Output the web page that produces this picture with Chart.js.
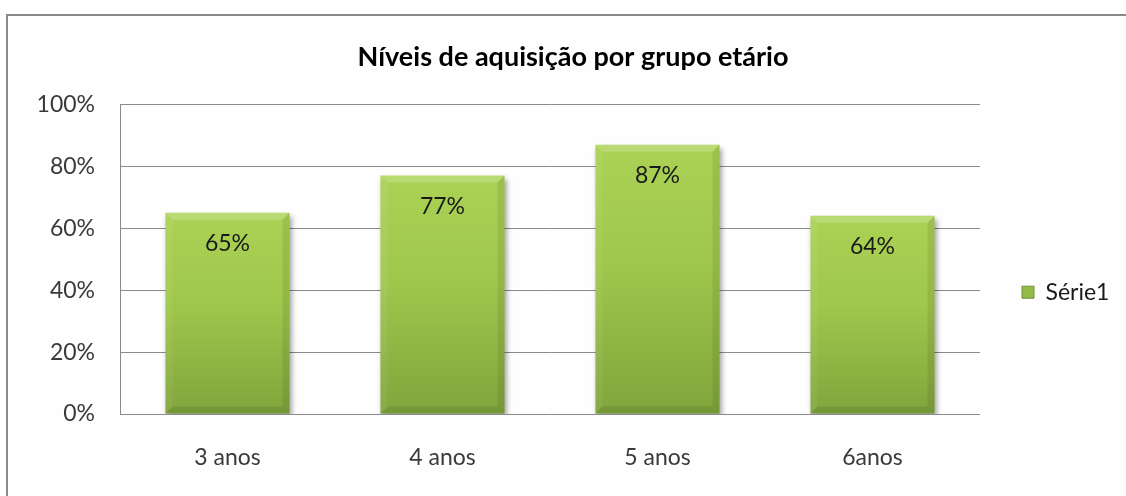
<!DOCTYPE html>
<html>
<head>
<meta charset="utf-8">
<script src="https://cdn.jsdelivr.net/npm/chart.js@4.4.0/dist/chart.umd.min.js"></script>
<style>
  html, body { margin: 0; padding: 0; background: #fff; overflow: hidden; }
  #wrap { position: relative; width: 1126px; height: 496px; overflow: hidden; }
  #frame { position: absolute; left: 6px; top: 14px; width: 1200px; height: 600px;
           border: 2px solid #8a8a8a; background: #fefefe; box-sizing: border-box; }
  canvas { position: absolute; left: 0; top: 0; }
</style>
</head>
<body>
<div id="wrap">
  <div id="frame"></div>
  <canvas id="chart" width="1126" height="496"></canvas>
</div>
<script>
// data
const categories = ['3 anos', '4 anos', '5 anos', '6anos'];
const values = [65, 77, 87, 64];
const seriesName = 'Série1';
const chartTitle = 'Níveis de aquisição por grupo etário';
const yMin = 0, yMax = 100, yStep = 20;

const FONT = 'Lato, "Open Sans", sans-serif';

// vertical green gradient per bar, like the Excel preset
function barFill(c) {
  const chart = c.chart;
  if (!chart.chartArea || c.raw === undefined) return '#98c04a';
  const ys = chart.scales.y;
  const top = ys.getPixelForValue(c.raw), bot = ys.getPixelForValue(0);
  const g = chart.ctx.createLinearGradient(0, top, 0, bot);
  g.addColorStop(0, '#abd255');
  g.addColorStop(0.45, '#9fc74c');
  g.addColorStop(1, '#80a53c');
  return g;
}

// shadow + bevel + value labels on the bars
const barDeco = {
  id: 'barDeco',
  beforeDatasetsDraw(chart) {
    const ctx = chart.ctx;
    ctx.save();
    ctx.shadowColor = 'rgba(0,0,0,0.35)';
    ctx.shadowBlur = 5;
    ctx.shadowOffsetX = 2;
    ctx.shadowOffsetY = 3;
  },
  afterDatasetsDraw(chart) {
    const ctx = chart.ctx;
    ctx.restore();
    const meta = chart.getDatasetMeta(0);
    meta.data.forEach((el, i) => {
      const {x, y, base, width} = el.getProps(['x', 'y', 'base', 'width'], true);
      const l = x - width / 2, r = x + width / 2, b = 7;
      const poly = (pts, fill) => {
        ctx.beginPath();
        ctx.moveTo(pts[0][0], pts[0][1]);
        pts.slice(1).forEach(p => ctx.lineTo(p[0], p[1]));
        ctx.closePath();
        ctx.fillStyle = fill;
        ctx.fill();
      };
      poly([[l, y], [r, y], [r - b, y + b], [l + b, y + b]], 'rgba(255,255,255,0.18)');
      poly([[l, y], [l + b, y + b], [l + b, base - b], [l, base]], 'rgba(255,255,255,0.06)');
      poly([[r, y], [r - b, y + b], [r - b, base - b], [r, base]], 'rgba(0,0,0,0.08)');
      poly([[l, base], [l + b, base - b], [r - b, base - b], [r, base]], 'rgba(0,0,0,0.09)');

      ctx.save();
      ctx.fillStyle = '#1a1a1a';
      ctx.font = '23px ' + FONT;
      ctx.textAlign = 'center';
      ctx.textBaseline = 'middle';
      ctx.fillText(values[i] + '%', x, y + 31);
      ctx.restore();
    });
  }
};

// legend: fixed width on the right, moved down like the original
const legendFix = {
  id: 'legendFix',
  beforeLayout(chart) {
    const lg = chart.legend;
    if (lg && !lg._fixed) {
      const fit = lg.fit.bind(lg);
      lg.fit = function () { fit(); this.width = 146; };
      lg._fixed = true;
    }
  },
  afterLayout(chart) {
    const lg = chart.legend;
    if (lg) { lg.top += 33; lg.bottom += 33; }
  }
};

const ctx = document.getElementById('chart').getContext('2d');
const myChart = new Chart(ctx, {
  type: 'bar',
  data: {
    labels: categories,
    datasets: [{
      label: seriesName,
      data: values,
      backgroundColor: barFill,
      borderWidth: 0,
      categoryPercentage: 1,
      barPercentage: 0.577
    }]
  },
  options: {
    responsive: false,
    animation: false,
    layout: { padding: { left: 20, right: 0, top: 0, bottom: 0 } },
    scales: {
      x: {
        grid: { display: false, drawTicks: false },
        border: { display: false },
        ticks: { color: '#3a3a3a', font: { family: FONT, size: 23 }, padding: 30 },
        afterFit: s => { s.height = 82; }
      },
      y: {
        min: yMin, max: yMax,
        grid: { color: '#8a8a8a', lineWidth: 1, drawTicks: false },
        border: { display: true, color: '#8a8a8a', width: 1 },
        ticks: {
          stepSize: yStep,
          color: '#3a3a3a',
          font: { family: FONT, size: 23 },
          padding: 25,
          callback: v => v + '%'
        },
        afterFit: s => { s.width = 100; }
      }
    },
    plugins: {
      title: {
        display: true,
        text: chartTitle,
        color: '#000',
        font: { family: FONT, size: 27, weight: 'bold' },
        padding: { top: 41, bottom: 31 }
      },
      legend: {
        position: 'right',
        fullSize: false,
        labels: {
          boxWidth: 12, boxHeight: 12,
          padding: 42,
          color: '#1a1a1a',
          font: { family: FONT, size: 23 },
          generateLabels: chart => {
            const items = Chart.defaults.plugins.legend.labels.generateLabels(chart);
            items.forEach(it => { it.fillStyle = '#93bb47'; it.strokeStyle = '#6f9230'; it.lineWidth = 1; });
            return items;
          }
        }
      },
      tooltip: { enabled: false }
    }
  },
  plugins: [barDeco, legendFix]
});
</script>
</body>
</html>
